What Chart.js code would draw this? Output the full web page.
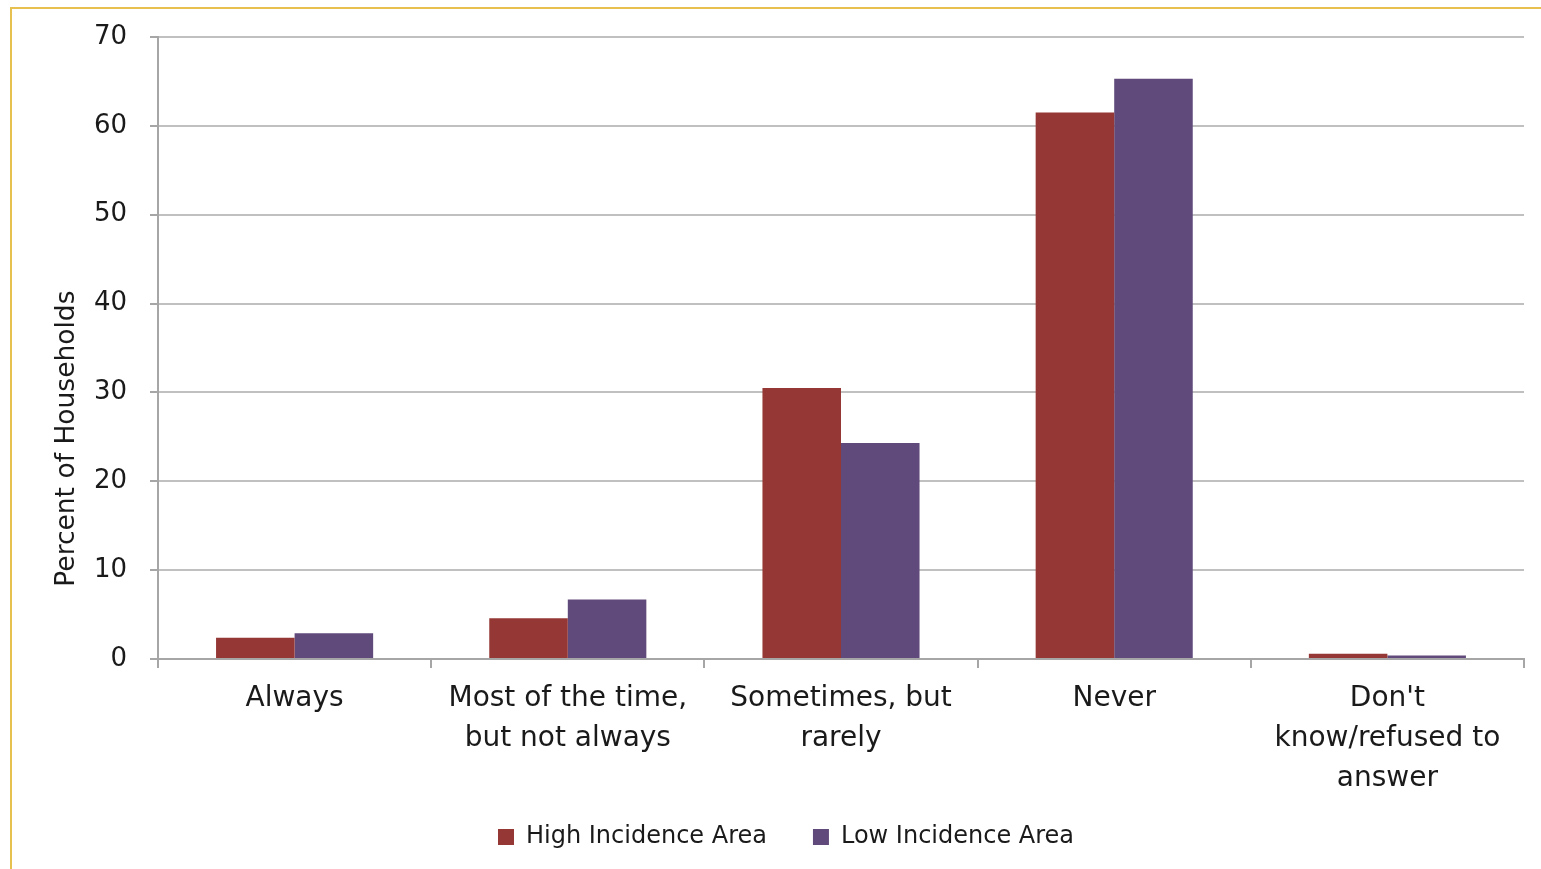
<!DOCTYPE html>
<html>
<head>
<meta charset="utf-8">
<title>Percent of Households</title>
<script src="https://cdn.jsdelivr.net/npm/chart.js@4.4.1/dist/chart.umd.min.js"></script>
<style>
  html, body { margin: 0; padding: 0; background: #ffffff; }
  body { width: 1541px; height: 869px; position: relative; overflow: hidden; }
  #frame {
    position: absolute; left: 10px; top: 7px; right: 0; bottom: 0;
    border-left: 2px solid #e6c14f; border-top: 2px solid #e6c14f;
  }
  #wrap { position: absolute; left: 0; top: 0; width: 1541px; height: 869px; }
</style>
</head>
<body>
<div id="frame"></div>
<div id="wrap"><canvas id="chart" width="1541" height="869"></canvas></div>
<script>
// Survey responses by area
const categories = [
  'Always',
  ['Most of the time,', 'but not always'],
  ['Sometimes, but', 'rarely'],
  'Never',
  ["Don't", 'know/refused to', 'answer']
];
const highIncidence = [2.4, 4.6, 30.5, 61.5, 0.6];
const lowIncidence = [2.9, 6.7, 24.3, 65.3, 0.4];
const seriesNames = ['High Incidence Area', 'Low Incidence Area'];
const yTitle = 'Percent of Households';

const FONT = '"DejaVu Sans", sans-serif';
const TEXT = '#1a1a1a';
const GRID = '#c0c0c0';
const AXIS = '#a6a6a6';

// Rotated y-axis title, centred lower on the axis
const yTitlePlugin = {
  id: 'yTitle',
  afterDraw(chart) {
    const y = chart.scales.y;
    const ctx = chart.ctx;
    ctx.save();
    ctx.translate(67, y.getPixelForValue(24.8));
    ctx.rotate(-Math.PI / 2);
    ctx.font = '26.5px ' + FONT;
    ctx.fillStyle = TEXT;
    ctx.textAlign = 'center';
    ctx.textBaseline = 'middle';
    ctx.fillText(yTitle, 0, 0);
    ctx.restore();
  }
};

new Chart(document.getElementById('chart'), {
  type: 'bar',
  data: {
    labels: categories,
    datasets: [
      { label: seriesNames[0], data: highIncidence, backgroundColor: '#953735', borderWidth: 0 },
      { label: seriesNames[1], data: lowIncidence, backgroundColor: '#604a7b', borderWidth: 0 }
    ]
  },
  options: {
    responsive: false,
    animation: false,
    layout: { padding: { top: 37, right: 17, bottom: 10, left: 48 } },
    datasets: { bar: { barPercentage: 1.0, categoryPercentage: 0.575 } },
    scales: {
      x: {
        offset: true,
        afterFit(scale) {
          scale.height = 120;
          scale.paddingTop = 0;
          scale.paddingBottom = 0;
          // let the three-line category label run below the axis box
          scale._computeLabelArea = () => undefined;
        },
        grid: {
          display: true, offset: true, drawOnChartArea: false, drawTicks: true,
          tickLength: 9, color: AXIS, lineWidth: 2
        },
        border: { display: true, color: AXIS, width: 2 },
        ticks: {
          color: TEXT, padding: 11, maxRotation: 0, autoSkip: false,
          font: { family: FONT, size: 28, lineHeight: 1.43 }
        }
      },
      y: {
        min: 0, max: 70,
        afterFit(scale) {
          scale.width = 110;
          scale.paddingTop = 0;
          scale.paddingBottom = 0;
        },
        grid: {
          color: GRID, lineWidth: 2, drawTicks: true, tickLength: 8,
          tickColor: AXIS
        },
        border: { display: true, color: AXIS, width: 2 },
        ticks: {
          stepSize: 10, color: TEXT, padding: 23,
          font: { family: FONT, size: 26 }
        }
      }
    },
    plugins: {
      legend: {
        position: 'bottom',
        labels: {
          color: TEXT, boxWidth: 16, boxHeight: 16, padding: 46,
          font: { family: FONT, size: 24 }
        }
      },
      tooltip: { enabled: false }
    }
  },
  plugins: [yTitlePlugin]
});
</script>
</body>
</html>
